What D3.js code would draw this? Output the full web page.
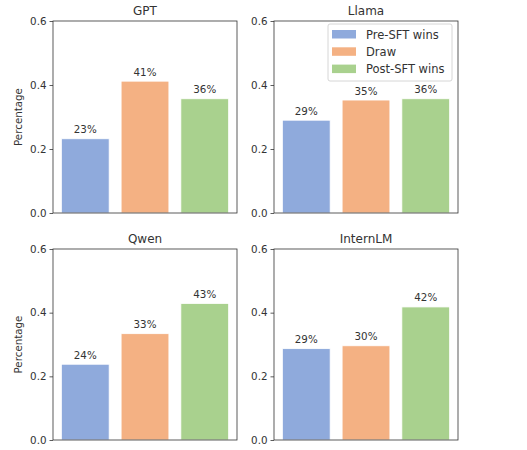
<!DOCTYPE html>
<html>
<head>
<meta charset="utf-8">
<script src="https://cdn.jsdelivr.net/npm/d3@7"></script>
<style>
  body { margin: 0; background: #fff; }
  text { font-family: "DejaVu Sans", sans-serif; fill: #333; font-weight: normal; }
</style>
</head>
<body>
<svg width="527" height="450"></svg>
<script>
const models = ['GPT', 'Llama', 'Qwen', 'InternLM']
const outcomes = ['Pre-SFT wins', 'Draw', 'Post-SFT wins']
const preWins = [0.232, 0.290, 0.238, 0.287]
const draws = [0.412, 0.353, 0.334, 0.296]
const postWins = [0.357, 0.357, 0.429, 0.418]
const yTicks = [0, 0.2, 0.4, 0.6]
const colors = ['#8faadc', '#f4b183', '#a9d18e']

const svg = d3.select('svg')
const panels = [
  { x0: 53, x1: 237, y0: 21, y1: 213 },
  { x0: 274, x1: 458, y0: 21, y1: 213 },
  { x0: 53, x1: 237, y0: 249, y1: 440 },
  { x0: 274, x1: 458, y0: 249, y1: 440 }
]

models.forEach((model, i) => {
  const p = panels[i]
  const values = [preWins[i], draws[i], postWins[i]]
  // bars at 0,1,2 with width 0.8 and 5% margins, like matplotlib
  const x = d3.scaleLinear().domain([-0.54, 2.54]).range([p.x0, p.x1])
  const y = d3.scaleLinear().domain([0, 0.6]).range([p.y1, p.y0])
  const g = svg.append('g')

  g.selectAll('rect.bar')
    .data(values)
    .enter().append('rect')
    .attr('class', 'bar')
    .attr('x', (d, j) => x(j - 0.4))
    .attr('width', x(0.8) - x(0))
    .attr('y', d => y(d))
    .attr('height', d => y(0) - y(d))
    .attr('fill', (d, j) => colors[j])
    .attr('stroke', '#fff')
    .attr('stroke-width', 0.8)

  g.selectAll('text.val')
    .data(values)
    .enter().append('text')
    .attr('class', 'val')
    .attr('x', (d, j) => x(j))
    .attr('y', d => y(d) - 5.5)
    .attr('text-anchor', 'middle')
    .attr('font-size', 10.3)
    .text(d => Math.round(d * 100) + '%')

  const yAxis = d3.axisLeft(y).tickValues(yTicks).tickFormat(d3.format('.1f')).tickSize(3.5).tickPadding(3)
  const ag = g.append('g').attr('transform', `translate(${p.x0},0)`).call(yAxis)
  ag.select('.domain').remove()
  ag.selectAll('text').attr('font-size', 10.3).style('font-family', '"DejaVu Sans", sans-serif').attr('fill', '#333')
  ag.selectAll('line').attr('stroke', '#333').attr('stroke-width', 0.8)

  g.append('rect')
    .attr('x', p.x0).attr('y', p.y0)
    .attr('width', p.x1 - p.x0).attr('height', p.y1 - p.y0)
    .attr('fill', 'none').attr('stroke', '#333').attr('stroke-width', 0.8)

  g.append('text')
    .attr('x', (p.x0 + p.x1) / 2)
    .attr('y', p.y0 - 6)
    .attr('text-anchor', 'middle')
    .attr('font-size', 12)
    .text(model)

  if (i % 2 === 0) {
    g.append('text')
      .attr('transform', `translate(22,${(p.y0 + p.y1) / 2}) rotate(-90)`)
      .attr('text-anchor', 'middle')
      .attr('font-size', 10.3)
      .text('Percentage')
  }
})

// legend sits inside the Llama panel
const lg = svg.append('g').attr('transform', 'translate(328,24)')
lg.append('rect')
  .attr('width', 124).attr('height', 57).attr('rx', 2)
  .attr('fill', '#fff').attr('fill-opacity', 0.8)
  .attr('stroke', '#ccc').attr('stroke-width', 0.8)
outcomes.forEach((name, j) => {
  lg.append('rect')
    .attr('x', 4).attr('y', 6 + j * 17.3)
    .attr('width', 24).attr('height', 8.5)
    .attr('fill', colors[j])
  lg.append('text')
    .attr('x', 38).attr('y', 14.5 + j * 17.3)
    .attr('font-size', 11.5)
    .text(name)
})
</script>
</body>
</html>
